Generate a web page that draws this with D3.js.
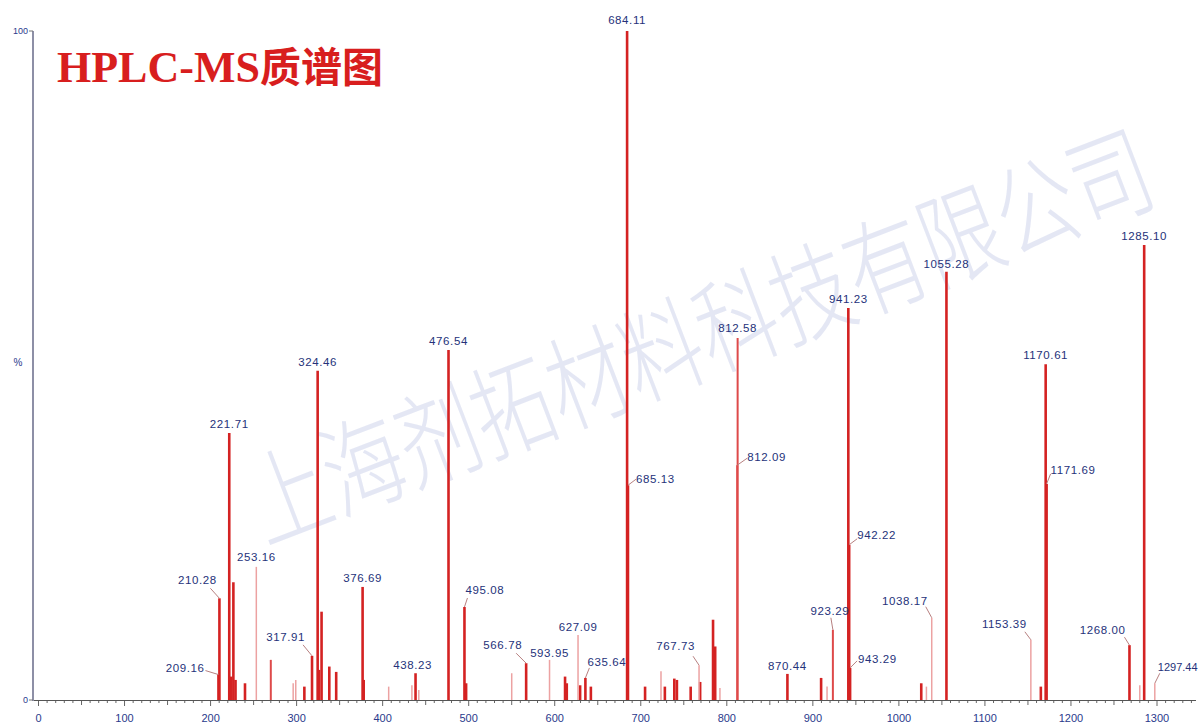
<!DOCTYPE html>
<html><head><meta charset="utf-8">
<script src="https://cdn.jsdelivr.net/npm/d3@7"></script>
<style>
html,body{margin:0;padding:0;background:#fff;}
svg{display:block;}
</style></head>
<body><svg id="chart" width="1200" height="726"></svg>
<script>
// ---- data ----
const xTicks = [0,100,200,300,400,500,600,700,800,900,1000,1100,1200,1300];
const yTicks = [0,100];
// labeled peaks
const labelMz   = [684.11,1285.10,1055.28,941.23,812.58,476.54,324.46,1170.61,221.71,253.16,210.28,209.16,317.91,376.69,438.23,495.08,566.78,593.95,627.09,635.64,767.73,870.44,923.29,1038.17,1153.39,1268.00,1297.44,685.13,812.09,942.22,943.29,1171.69];
const labelInt  = [100,68.0,64.0,58.6,54.1,52.3,49.2,50.2,39.9,19.9,15.2,3.8,6.6,16.9,4.0,13.9,5.5,6.0,9.7,3.3,5.2,3.9,10.5,12.3,9.0,8.2,2.5,32.1,35.1,23.2,4.8,32.3];
const labelKind = ["main","main","main","main","mid","main","main","main","main","light","main","main","main","main","main","main","main","light","light","main","light","main","mid","light","light","main","light","main","mid","main","main","main"];
const labelText = ["684.11","1285.10","1055.28","941.23","812.58","476.54","324.46","1170.61","221.71","253.16","210.28","209.16","317.91","376.69","438.23","495.08","566.78","593.95","627.09","635.64","767.73","870.44","923.29","1038.17","1153.39","1268.00","1297.44","685.13","812.09","942.22","943.29","1171.69"];
// unlabeled peaks
const peakMz   = [224,226.5,229,240,270,296,299,309,326,329,338,346,378,407,434,442,497,550,612,614,629.5,642,705,723.5,728,739,742,758,769,784,786.5,792,909.6,916.5,1026,1032,1165,1280];
const peakInt  = [3.5,17.6,3.0,2.5,6.0,2.5,3.0,2.0,4.5,13.2,5.0,4.2,3.0,2.0,2.2,1.5,2.5,4.0,3.5,2.5,2.2,2.0,2.0,4.3,2.0,3.2,3.0,2.0,2.7,12.0,8.0,1.8,3.3,2.0,2.5,2.0,2.0,2.2];
const peakKind = ["main","main","main","main","mid","light","light","main","main","main","main","main","main","light","light","light","main","light","main","main","main","main","main","light","main","main","main","main","main","main","main","light","main","light","main","light","main","light"];

// ---- label layout (pixel offsets relative to peak top) ----
// [anchor, dx, dy, leaderDx, leaderDy]
const layout = {
  "210.28":["middle",-22,-14,-9,-10],
  "209.16":["end",-14,-3,-13,-4],
  "317.91":["end",-7,-15,-9,-11],
  "438.23":["middle",-3,-4,null,null],
  "495.08":["start",1,-13,3,-9],
  "566.78":["end",-4,-14,-10,-10],
  "593.95":["middle",0,-3,null,null],
  "627.09":["middle",0,-4,null,null],
  "635.64":["start",2,-12,4,-10],
  "767.73":["end",-4,-15,-6,-9],
  "870.44":["middle",0,-4,null,null],
  "923.29":["middle",-3,-15,-2,-12],
  "1038.17":["end",-4,-13,-6,-11],
  "1153.39":["end",-4,-12,-6,-8],
  "1268.00":["end",-4,-11,-5,-8],
  "1297.44":["start",3,-12,5,-10],
  "685.13":["start",8,-2,8,-6],
  "812.09":["start",10,-4,10,-7],
  "942.22":["start",8,-6,8,-6],
  "943.29":["start",8,-5,7,-7],
  "1171.69":["start",4,-10,4,-10],
  "1055.28":["middle",0,-4,null,null],
  "684.11":["middle",0,-7,null,null],
  "812.58":["middle",0,-6,null,null],
  "253.16":["middle",0,-6,null,null]
};

const styles = {
  main:{color:"#d42222", w:2.6},
  mid:{color:"#de4a4a", w:2},
  light:{color:"#eca2a2", w:1.5}
};

const svg = d3.select("#chart");
const x = d3.scaleLinear().domain([0,1300]).range([38.5,1157]);
const y = d3.scaleLinear().domain([0,100]).range([700,31]);

// watermark
svg.append("text")
  .attr("transform","translate(713,372) rotate(-21) scale(1,1.3)")
  .attr("text-anchor","middle")
  .attr("font-family","'Noto Sans CJK SC', sans-serif")
  .attr("font-weight",300)
  .attr("font-size",80)
  .attr("fill","#dfe3f2")
  .attr("fill-opacity",0.85)
  .text("上海剂拓材料科技有限公司");

// x axis minor ticks
const axisG = svg.append("g");
const minor = d3.range(0,1341,10);
axisG.selectAll("line.minor").data(minor).join("line")
  .attr("x1",d=>x(d)).attr("x2",d=>x(d))
  .attr("y1",700).attr("y2",d=> d%100===0?706:(d%50===0?705:703))
  .attr("stroke","#666").attr("stroke-width",1);
axisG.append("line").attr("x1",33).attr("x2",1196).attr("y1",700.5).attr("y2",700.5)
  .attr("stroke","#555").attr("stroke-width",1.2);
axisG.selectAll("text.xt").data(xTicks).join("text")
  .attr("x",d=>x(d)).attr("y",722)
  .attr("text-anchor","middle")
  .attr("font-family","'Liberation Sans', Arial, sans-serif")
  .attr("font-size",11).attr("fill","#2a3a8c")
  .text(d=>d);

// y axis
axisG.append("line").attr("x1",33).attr("x2",33).attr("y1",y(100)).attr("y2",701)
  .attr("stroke","#8d8fa6").attr("stroke-width",2);
axisG.selectAll("line.yt").data(yTicks).join("line")
  .attr("x1",29).attr("x2",33).attr("y1",d=>y(d)).attr("y2",d=>y(d))
  .attr("stroke","#777").attr("stroke-width",1);
axisG.selectAll("text.yt").data(yTicks).join("text")
  .attr("x",28).attr("y",d=>y(d)+3)
  .attr("text-anchor","end")
  .attr("font-family","'Liberation Sans', Arial, sans-serif")
  .attr("font-size",9).attr("fill","#2a3a8c")
  .text(d=>d);
svg.append("text").attr("x",18).attr("y",366).attr("text-anchor","middle")
  .attr("font-family","'Liberation Sans', Arial, sans-serif")
  .attr("font-size",10).attr("fill","#2a3a8c").text("%");

// peaks
const peaks = peakMz.map((m,i)=>({mz:m,int:peakInt[i],kind:peakKind[i]}))
  .concat(labelMz.map((m,i)=>({mz:m,int:labelInt[i],kind:labelKind[i]})));
peaks.sort((a,b)=>a.int-b.int);
svg.append("g").selectAll("line").data(peaks).join("line")
  .attr("x1",d=>x(d.mz)).attr("x2",d=>x(d.mz))
  .attr("y1",y(0)).attr("y2",d=>y(d.int))
  .attr("stroke",d=>styles[d.kind].color)
  .attr("stroke-width",d=>styles[d.kind].w);

// labels
const lbl = labelMz.map((m,i)=>({mz:m,int:labelInt[i],text:labelText[i]}));
const lg = svg.append("g");
lbl.forEach(d=>{
  const px = x(d.mz), py = y(d.int);
  const L = layout[d.text] || ["middle",0,-5,null,null];
  if (L[3]!==null){
    lg.append("path")
      .attr("d",`M${px},${py}L${px+L[3]},${py+L[4]}`)
      .attr("stroke","#b78080").attr("stroke-width",1).attr("fill","none");
  }
  lg.append("text").attr("x",px+L[1]).attr("y",py+L[2])
    .attr("text-anchor",L[0])
    .attr("font-family","'Liberation Sans', Arial, sans-serif")
    .attr("font-size",d.text==="1297.44"?11:11.5).attr("letter-spacing",d.text==="1297.44"?0:0.6)
    .attr("fill","#25327a")
    .text(d.text);
});

// title
const t = svg.append("text").attr("x",57).attr("y",82)
  .attr("fill","#d81e1e").attr("font-weight","bold");
t.append("tspan").attr("font-family","'Liberation Serif', 'DejaVu Serif', serif").attr("font-size",44).text("HPLC-MS");
t.append("tspan").attr("font-family","'Noto Sans CJK SC', sans-serif").attr("font-size",41).text("质谱图");
</script></body></html>
